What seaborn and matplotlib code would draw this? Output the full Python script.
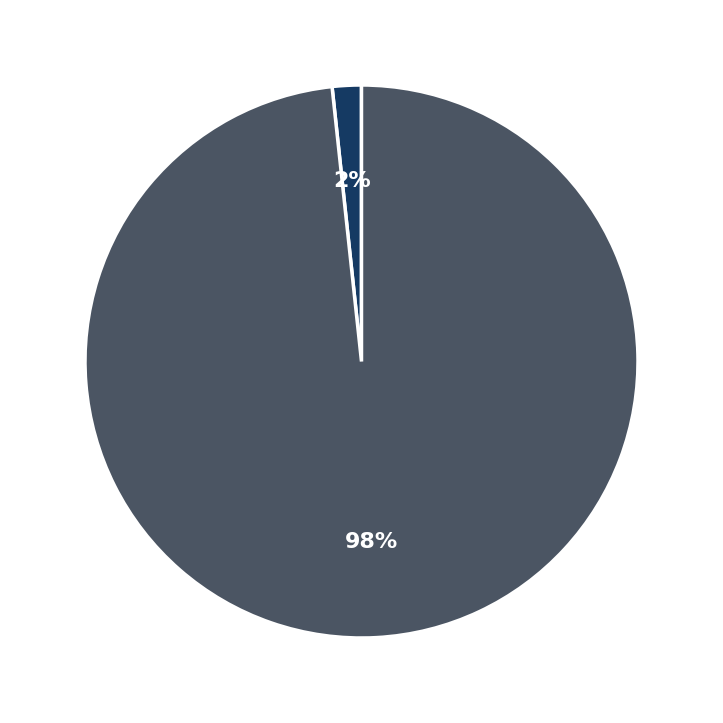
import matplotlib
matplotlib.use('Agg')
import matplotlib.pyplot as plt
import seaborn as sns

sns.set_theme(style='white')
plt.rcParams['font.family'] = ['DejaVu Sans']

labels = ['Small', 'Large']
values = [1.7, 98.3]
colors = ['#153a63', '#4b5563']

fig = plt.figure(figsize=(7.23, 7.23), dpi=100)
ax = fig.add_axes([0, 0, 1, 1])
wedges, texts, autotexts = ax.pie(values, colors=colors, startangle=90, counterclock=True,
                                  autopct='%1.0f%%', pctdistance=0.653,
                                  wedgeprops={'edgecolor': 'white', 'linewidth': 2.5},
                                  textprops={'color': 'white', 'fontsize': 16, 'fontweight': 'bold'})
ax.set_aspect('equal')
lim = 361.5 / 276.5
ax.set_xlim(-lim, lim)
ax.set_ylim(-lim, lim)
fig.savefig('out.png', dpi=100)
